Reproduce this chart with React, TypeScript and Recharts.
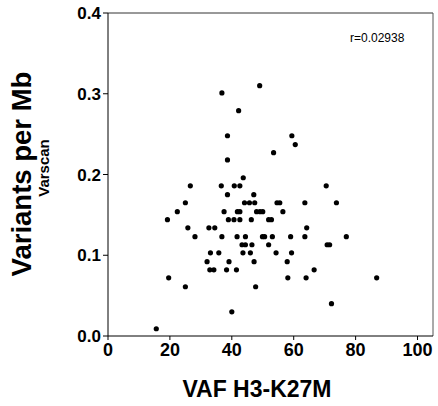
import { ScatterChart, Scatter, XAxis, YAxis, ReferenceLine, Label } from 'recharts';

// VAF (%) for each sample
const vaf = [
  36.8, 49.0, 42.2, 38.6, 38.6, 59.4, 60.5, 53.5, 43.7, 26.6,
  36.6, 40.8, 42.6, 70.5, 38.6, 47.1, 25.0, 44.1, 45.7, 47.4,
  54.6, 55.5, 63.6, 73.8, 22.4, 37.5, 41.8, 42.6, 48.0, 49.1,
  50.0, 56.5, 19.2, 38.9, 40.7, 42.6, 46.3, 51.9, 52.8, 25.8,
  32.6, 34.5, 64.2, 28.1, 36.8, 41.7, 44.4, 49.9, 50.6, 53.1,
  59.0, 63.6, 77.0, 43.3, 44.4, 46.5, 51.9, 70.8, 71.6, 33.1,
  35.8, 43.6, 46.0, 54.3, 59.3, 32.0, 39.1, 47.2, 57.9, 32.9,
  34.2, 38.3, 41.5, 66.6, 19.6, 58.1, 64.0, 86.8, 25.0, 47.7,
  40.0, 72.2, 15.6,
];

// variants per Mb (Varscan), same order as vaf
const variants = [
  0.301, 0.310, 0.279, 0.248, 0.218, 0.248, 0.237, 0.227, 0.196, 0.186,
  0.186, 0.186, 0.186, 0.186, 0.175, 0.175, 0.165, 0.165, 0.165, 0.165,
  0.165, 0.165, 0.165, 0.165, 0.154, 0.154, 0.154, 0.154, 0.154, 0.154,
  0.154, 0.154, 0.144, 0.144, 0.144, 0.144, 0.144, 0.144, 0.144, 0.134,
  0.134, 0.134, 0.134, 0.123, 0.123, 0.123, 0.123, 0.123, 0.123, 0.123,
  0.123, 0.123, 0.123, 0.113, 0.113, 0.113, 0.113, 0.113, 0.113, 0.103,
  0.103, 0.103, 0.103, 0.103, 0.103, 0.092, 0.092, 0.092, 0.092, 0.082,
  0.082, 0.082, 0.082, 0.082, 0.072, 0.072, 0.072, 0.072, 0.061, 0.061,
  0.030, 0.040, 0.009,
];

const xTicks = [0, 20, 40, 60, 80, 100];
const yTicks = [0, 0.1, 0.2, 0.3, 0.4];
const rLabel = 'r=0.02938';

const data = vaf.map((v, i) => ({ vaf: v, variants: variants[i] }));

const FONT = 'Liberation Sans, Arial, sans-serif';
const BOLD = { fontFamily: FONT, fontWeight: 700, fill: '#000' };

const Dot = (props: any) => <circle cx={props.cx} cy={props.cy} r={2.6} fill="#000" />;

const renderXTick = ({ x, y, payload }: any) => (
  <text x={x} y={y + 13} textAnchor="middle" fontSize={18} style={BOLD}>
    {payload.value}
  </text>
);

const renderYTick = ({ x, y, payload }: any) => (
  <text x={x} y={y + 6} textAnchor="end" fontSize={17} style={BOLD}>
    {Number(payload.value).toFixed(1)}
  </text>
);

const YTitle = () => (
  <g>
    <text transform="translate(30.5,174) rotate(-90)" textAnchor="middle" fontSize={27.5} style={BOLD}>
      Variants per Mb
    </text>
    <text transform="translate(48.5,168) rotate(-90)" textAnchor="middle" fontSize={15} style={BOLD}>
      Varscan
    </text>
  </g>
);

const XTitle = () => (
  <text x={257} y={397} textAnchor="middle" fontSize={23} style={BOLD}>
    VAF H3-K27M
  </text>
);

const RText = () => (
  <text x={350} y={42} fontFamily={FONT} fontSize={12} fill="#000">
    {rLabel}
  </text>
);

export default function App() {
  return (
    <div style={{ position: 'absolute', left: 0, top: 0, width: 438, height: 406, background: '#fff' }}>
      <ScatterChart width={438} height={406} margin={{ top: 13, right: 5, bottom: 0, left: 0 }}>
        <XAxis
          type="number"
          dataKey="vaf"
          domain={[0, 105]}
          ticks={xTicks}
          height={70}
          tickSize={4}
          tickMargin={3}
          stroke="#000"
          tick={renderXTick}
        >
          <Label content={<XTitle />} />
        </XAxis>
        <YAxis
          type="number"
          dataKey="variants"
          domain={[0, 0.4]}
          ticks={yTicks}
          width={108}
          tickSize={5}
          tickMargin={2}
          stroke="#000"
          tick={renderYTick}
        >
          <Label content={<YTitle />} />
        </YAxis>
        <ReferenceLine y={0.4} stroke="#333" ifOverflow="extendDomain">
          <Label content={<RText />} />
        </ReferenceLine>
        <ReferenceLine x={105} stroke="#555" />
        <Scatter data={data} shape={<Dot />} isAnimationActive={false} />
      </ScatterChart>
    </div>
  );
}
